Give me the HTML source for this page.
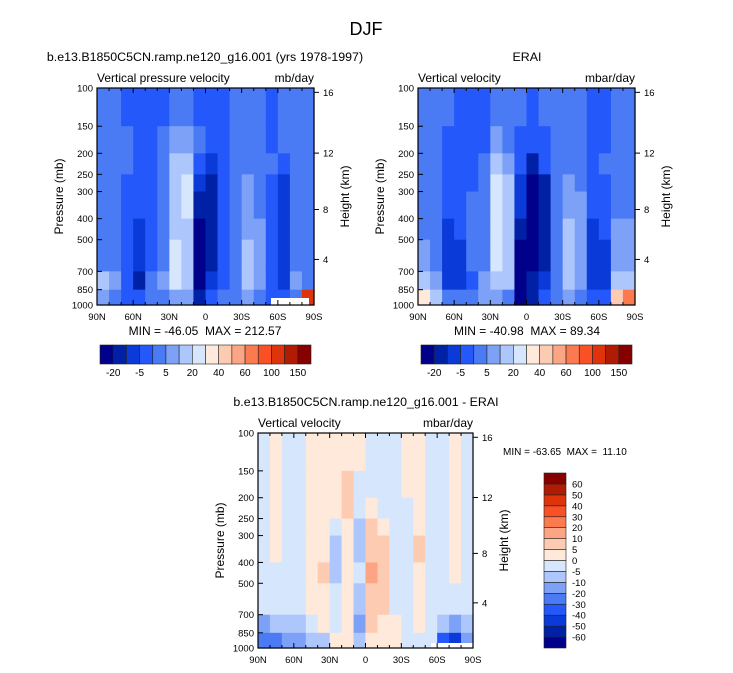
<!DOCTYPE html>
<html><head><meta charset="utf-8"><style>
html,body{margin:0;padding:0;background:#fff;}
svg{display:block;font-family:"Liberation Sans",Arial,sans-serif;}
</style></head><body>
<svg id="fig" width="733" height="673" viewBox="0 0 733 673" xmlns="http://www.w3.org/2000/svg">
<text x="366" y="35" font-size="18" text-anchor="middle">DJF</text>
</svg>
<script>
// ---- data ----
const latEdges = [90,80,70,60,50,40,30,20,10,0,-10,-20,-30,-40,-50,-60,-70,-80,-90];
const presEdges = [100,150,200,250,300,400,500,700,850,1000];
const presTicks = [100,150,200,250,300,400,500,700,850,1000];
const latTickVals = [90,60,30,0,-30,-60,-90];
const latTickLabels = ["90N","60N","30N","0","30S","60S","90S"];
const heightTickLabels = ["16","12","8","4"];
const heightTickFrac = [0.02,0.30,0.56,0.79];
const levelsTop = [-20,-10,-5,0,5,10,20,30,40,50,60,80,100,120,150];
const levelsTopLabels = ["-20","-5","5","20","40","60","100","150"];
const levelsDiff = [-60,-50,-40,-30,-20,-10,-5,0,5,10,20,30,40,50,60];
const levelsDiffLabels = ["-60","-50","-40","-30","-20","-10","-5","0","5","10","20","30","40","50","60"];
const palette = ["#00008a","#0021a5","#0a3ad8","#2458fb","#4a7bf5","#7ea1f8","#adc6fb","#d6e6fd","#fee9da","#fdcab2","#fca584","#fb7a50","#fa5026","#de330b","#b11b04","#860000"];
// fields: one array per latitude band (90N->90S), values top(100mb)->bottom(1000mb), mb/day
const modelField = [
[2,2,2,2,2,2,3,15,7],[2,2,2,2,2,2,2,7,2],[-3,2,2,-3,-3,-3,-3,-3,-3],
[-3,-3,-3,-3,-3,-7,-7,-15,-3],[-3,-3,-3,-3,-3,-3,-3,2,2],[-3,2,2,2,2,2,2,7,2],
[2,7,15,15,15,15,25,25,7],[2,7,15,25,25,15,15,15,7],[-3,2,-3,-7,-15,-25,-25,-25,-15],
[-3,-3,-7,-15,-15,-15,-15,-7,-3],[-3,-3,-3,-3,-3,-3,-3,-3,2],[2,2,2,2,2,2,2,2,2],
[2,2,2,7,7,7,15,15,7],[2,2,2,2,2,7,7,7,2],[-3,-3,2,-3,-3,-3,-3,-3,-3],
[2,2,-3,-7,-7,-7,-7,-7,-3],[2,2,2,2,2,2,2,7,2],[2,2,2,2,2,2,2,2,100]];
const eraiField = [
[2,2,2,2,2,2,7,15,35],[2,2,2,2,2,2,2,7,15],[2,-3,-3,-3,-3,-7,-7,-7,2],
[-3,-3,-3,-3,-3,-3,-7,-7,2],[-3,-3,-3,-3,2,2,2,-3,2],[-3,-3,2,2,2,2,2,7,7],
[2,7,15,25,25,25,25,15,7],[2,2,7,15,15,15,15,15,2],[2,-3,-3,-7,-7,-15,-25,-25,-25],
[-3,-3,-15,-25,-25,-25,-25,-15,-15],[2,-3,-3,-15,-15,-15,-15,-7,-3],[2,2,2,2,2,2,2,2,2],
[2,2,2,7,7,15,15,15,7],[2,2,2,2,7,7,7,7,2],[-3,-3,-3,-3,-3,-7,-7,-7,-3],
[-3,-3,2,-3,-3,-3,-7,-7,-3],[2,2,2,2,2,7,7,15,45],[2,2,2,2,2,7,7,15,65]];
const diffField = [
[-2,-2,-2,-2,-2,-2,-2,-12,-25],[2,2,2,2,2,-2,-2,-7,-25],[-2,-2,-2,-2,-2,-2,-2,-7,-15],
[-2,-2,-2,-2,-2,-2,-2,-7,-12],[2,2,2,2,2,2,2,-2,-7],[2,2,2,2,2,7,2,2,-7],
[2,2,2,-2,-7,-7,-2,-2,2],[2,7,7,2,2,2,2,2,2],[2,-2,-2,-7,-7,-2,-7,-12,-7],
[-2,-2,2,7,7,12,7,7,2],[-2,-2,-2,2,7,7,7,2,2],[-2,-2,-2,-2,-2,-2,-2,2,2],
[2,2,-2,-2,-2,-2,-2,-2,-2],[2,2,2,2,7,2,2,2,-2],[-2,-2,-2,-2,-2,-2,-2,-2,-2],
[-2,-2,-2,-2,-2,-2,-2,-7,-40],[2,2,2,2,2,2,-2,-12,-50],[-2,-2,-2,-2,-2,-2,-2,-7,-20]];

// ---- drawing ----
const NS="http://www.w3.org/2000/svg";
const svg=document.getElementById('fig');
function el(tag,attrs,parent){const e=document.createElementNS(NS,tag);for(const k in attrs)e.setAttribute(k,attrs[k]);(parent||svg).appendChild(e);return e;}
function colorFor(v,levels){let i=0;while(i<levels.length&&v>=levels[i])i++;return palette[i];}
function txt(x,y,s,size,anchor,name,parent){const t=el('text',{x:x,y:y,'font-size':size,'text-anchor':anchor||'start'},parent);t.textContent=s;
t.setAttribute('xml:space','preserve');
t.style.whiteSpace='pre';


return t;}

function panel(cfg){
  const g=el('g',{});
  
  
  const X0=cfg.x0,X1=cfg.x1,Y0=cfg.y0,Y1=cfg.y1;
  const xs=lat=>X0+(90-lat)/180*(X1-X0);
  const ys=p=>Y0+Math.log(p/100)/Math.log(10)*(Y1-Y0);
  cfg.field.forEach((col,i)=>{
    col.forEach((v,j)=>{
      const xa=xs(latEdges[i]),xb=xs(latEdges[i+1]),ya=ys(presEdges[j]),yb=ys(presEdges[j+1]);
      const r=el('rect',{x:xa,y:ya,width:xb-xa+0.6,height:yb-ya+0.6,fill:colorFor(v,cfg.levels)},g);
      
      
    });
  });
  if(cfg.missing){const m=el('rect',{x:cfg.missing[0],y:cfg.missing[1],width:cfg.missing[2],height:cfg.missing[3],fill:'#fff'},g);
    
    }
  const fr=el('rect',{x:X0,y:Y0,width:X1-X0,height:Y1-Y0,fill:'none',stroke:'#000','stroke-width':1.2},g);
  
  
  for(let lat=90;lat>=-90;lat-=10){
    const x=xs(lat);const major=lat%30===0;const L=major?5:3;
    el('line',{x1:x,y1:Y1,x2:x,y2:Y1-L,stroke:'#000'},g);
    el('line',{x1:x,y1:Y0,x2:x,y2:Y0+L,stroke:'#000'},g);
  }
  latTickVals.forEach((lat,i)=>txt(xs(lat),Y1+15,latTickLabels[i],9.5,'middle','x-tick-label',g));
  presTicks.forEach(p=>{const y=ys(p);el('line',{x1:X0,y1:y,x2:X0+5,y2:y,stroke:'#000'},g);
    txt(X0-4,y+3.5,String(p),9.5,'end','y-tick-label',g);});
  heightTickLabels.forEach((s,i)=>{const y=Y0+heightTickFrac[i]*(Y1-Y0);
    el('line',{x1:X1,y1:y,x2:X1+5,y2:y,stroke:'#000'},g);
    txt(X1+9,y+3.5,s,9.5,'start','height-tick-label',g);});
  const yl=txt(0,0,'Pressure (mb)',12,'middle','y-axis-title',g);
  yl.setAttribute('transform',`translate(${X0-34},${(Y0+Y1)/2}) rotate(-90)`);
  const hl=txt(0,0,'Height (km)',12,'middle','height-axis-title',g);
  hl.setAttribute('transform',`translate(${X1+35},${(Y0+Y1)/2}) rotate(-90)`);
  txt(X0,Y0-6,cfg.left,12,'start','panel-subtitle',g);
  txt(X1,Y0-6,cfg.right,12,'end','units-label',g);
  txt(cfg.titleX,Y0-27,cfg.title,12.4,'middle','panel-title',g);
}
panel({name:'model-panel',x0:97,x1:314,y0:88,y1:305,field:modelField,levels:levelsTop,left:'Vertical pressure velocity',right:'mb/day',title:'b.e13.B1850C5CN.ramp.ne120_g16.001 (yrs 1978-1997)',titleX:205,missing:[271,298,38,7]});
panel({name:'erai-panel',x0:418,x1:635,y0:88,y1:305,field:eraiField,levels:levelsTop,left:'Vertical velocity',right:'mbar/day',title:'ERAI',titleX:527});
panel({name:'diff-panel',x0:258,x1:473,y0:433,y1:648,field:diffField,levels:levelsDiff,left:'Vertical velocity',right:'mbar/day',title:'b.e13.B1850C5CN.ramp.ne120_g16.001 - ERAI',titleX:366,missing:[431,643,42,5]});

txt(205,335,'MIN = -46.05  MAX = 212.57',12,'middle','model-min-max');
txt(527,335,'MIN = -40.98  MAX = 89.34',12,'middle','erai-min-max');
txt(503,455,'MIN = -63.65  MAX =  11.10',10,'start','diff-min-max');

function hbar(x0,x1,y,name){
  const g=el('g',{});
  
  
  const w=(x1-x0)/palette.length;
  palette.forEach((c,i)=>{el('rect',{x:x0+i*w,y:y,width:w,height:19,fill:c,stroke:'#222','stroke-width':0.6},g);});
  levelsTopLabels.forEach((s,i)=>txt(x0+(2*i+1)*w,y+31,s,10,'middle','colorbar-label',g));
}
hbar(100,311,345,'model-colorbar');
hbar(421,632,345,'erai-colorbar');
(function(){
  const g=el('g',{});
  
  
  const y0=473,y1=648,h=(y1-y0)/palette.length;
  palette.forEach((c,i)=>{el('rect',{x:544,y:y1-(i+1)*h,width:22,height:h,fill:c,stroke:'#222','stroke-width':0.6},g);});
  levelsDiffLabels.forEach((s,i)=>txt(572,y1-(i+1)*h+3.5,s,9.5,'start','colorbar-label',g));
})();
</script>
</body></html>
